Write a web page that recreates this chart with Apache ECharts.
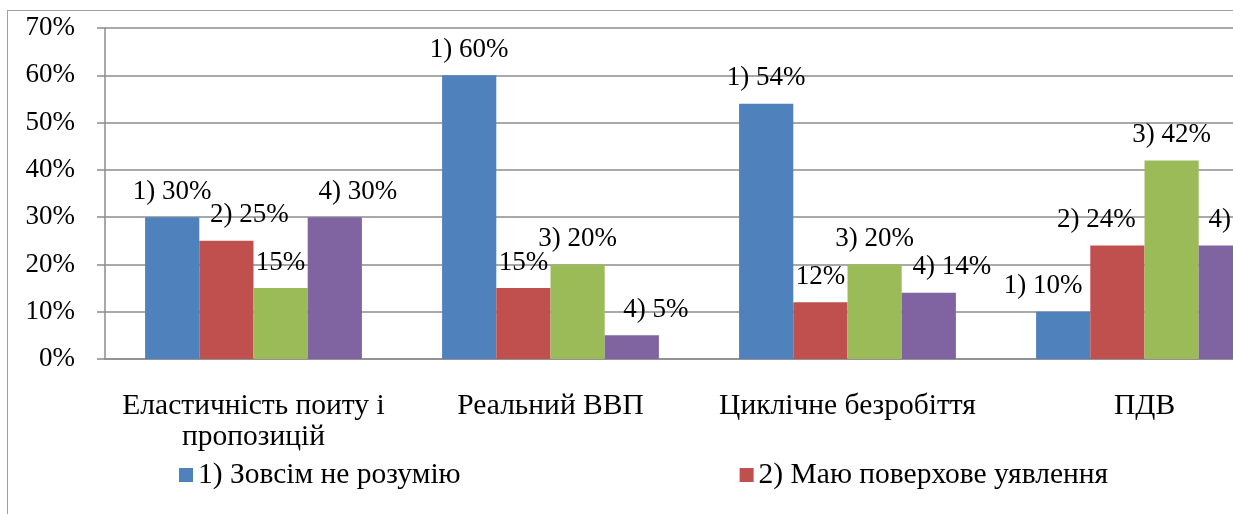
<!DOCTYPE html>
<html>
<head>
<meta charset="utf-8">
<script src="https://cdn.jsdelivr.net/npm/echarts@6/dist/echarts.min.js"></script>
<style>
	html, body { margin: 0; padding: 0; background: #fff; overflow: hidden; }
	#frame { position: absolute; left: 7px; top: 10px; width: 1400px; height: 600px; border-left: 1.5px solid #a0a0a0; border-top: 1.5px solid #a0a0a0; }
	#chart { position: absolute; left: 0; top: 0; width: 1300px; height: 514px; }
</style>
</head>
<body>
<div id="frame"></div>
<div id="chart"></div>
<script>
var categories = [ 'Еластичність поиту і\nпропозицій', 'Реальний ВВП', 'Циклічне безробіття', 'ПДВ' ];
var seriesNames = [ '1) Зовсім не розумію', '2) Маю поверхове уявлення', '3) Розумію в загальних рисах', '4) Добре розумію' ];
var values1 = [ 30, 60, 54, 10 ];
var values2 = [ 25, 15, 12, 24 ];
var values3 = [ 15, 20, 20, 42 ];
var values4 = [ 30, 5, 14, 24 ];
var yTicks = [ 0, 10, 20, 30, 40, 50, 60, 70 ];

// labels that were printed without the "n) " prefix
var noPrefix = [ [ 2, 0 ], [ 1, 1 ], [ 1, 2 ] ];
// horizontal shift of each data label, px
var labelShift = [ [ 0, 0, 0, -20 ], [ 23, 0, 0, -21 ], [ 0, 0, 0, 0 ], [ 23, 24, 23, 22 ] ];

var colors = [ '#4F81BD', '#C0504D', '#9BBB59', '#8064A2' ];
var fontFamily = 'Liberation Serif';
var lineColor = '#8c8c8c';

var chart = echarts.init(document.getElementById('chart'));

function hasPrefix(s, c) {
	for (var i = 0; i < noPrefix.length; i++) {
		if (noPrefix[i][0] == s && noPrefix[i][1] == c)
			return false;
	}
	return true;
}

function makeSeries(s, values) {
	return {
		name : seriesNames[s],
		type : 'bar',
		barGap : '0%',
		barCategoryGap : '27%',
		itemStyle : {
			color : colors[s]
		},
		data : values.map(function(v, c) {
			return {
				value : v,
				label : {
					offset : [ labelShift[s][c], 0 ]
				}
			};
		}),
		label : {
			show : true,
			position : 'top',
			distance : 12,
			fontFamily : fontFamily,
			fontSize : 27,
			color : '#000',
			formatter : function(p) {
				return (hasPrefix(s, p.dataIndex) ? (s + 1) + ') ' : '') + p.value + '%';
			}
		}
	};
}

var option = {
	animation : false,
	color : colors,
	textStyle : {
		fontFamily : fontFamily
	},
	legend : {
		left : 174,
		top : 454,
		width : 1000,
		itemGap : 279,
		itemWidth : 14,
		itemHeight : 14,
		icon : 'rect',
		textStyle : {
			fontFamily : fontFamily,
			fontSize : 29.5,
			lineHeight : 32,
			color : '#000'
		},
		data : seriesNames
	},
	grid : {
		left : 105,
		top : 28,
		width : 1188,
		bottom : 155
	},
	xAxis : {
		type : 'category',
		data : categories,
		axisLine : {
			lineStyle : {
				color : lineColor,
				width : 1.5
			}
		},
		axisTick : {
			length : 8,
			lineStyle : {
				color : lineColor,
				width : 1.5
			}
		},
		axisLabel : {
			interval : 0,
			margin : 32,
			fontFamily : fontFamily,
			fontSize : 29.5,
			lineHeight : 31,
			color : '#000'
		}
	},
	yAxis : {
		type : 'value',
		min : yTicks[0],
		max : yTicks[yTicks.length - 1],
		interval : 10,
		axisLine : {
			show : true,
			lineStyle : {
				color : lineColor,
				width : 1.5
			}
		},
		axisTick : {
			show : true,
			length : 8,
			lineStyle : {
				color : lineColor,
				width : 1.5
			}
		},
		splitLine : {
			lineStyle : {
				color : lineColor,
				width : 1.5
			}
		},
		axisLabel : {
			margin : 30,
			fontFamily : fontFamily,
			fontSize : 27,
			color : '#000',
			formatter : '{value}%'
		}
	},
	series : [ makeSeries(0, values1), makeSeries(1, values2), makeSeries(2, values3), makeSeries(3, values4) ]
};

chart.setOption(option);
</script>
</body>
</html>
